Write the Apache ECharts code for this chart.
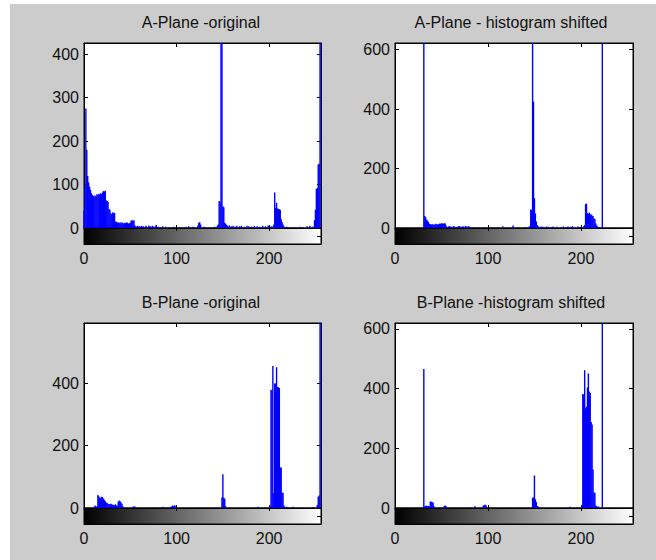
<!DOCTYPE html>
<html><head><meta charset="utf-8">
<script src="https://cdn.jsdelivr.net/npm/echarts@6/dist/echarts.min.js"></script>
<style>html,body{margin:0;padding:0;background:#fff;}#c{position:absolute;left:10px;top:4px;width:646px;height:556px;}</style>
</head><body><div id="c"></div><script>
const titles = ['A-Plane -original', 'A-Plane - histogram shifted', 'B-Plane -original', 'B-Plane -histogram shifted'];
const xTickLabels = [0, 100, 200];
const xMax = 256;
const yMax = [426, 622, 594, 620];
const yInterval = [100, 200, 200, 200];

// [intensity bin, pixel count]
const aPlaneOriginal = [[0,40],[1,95],[2,275],[3,180],[4,120],[5,105],[6,95],[7,88],[8,80],[9,76],[10,74],[11,72],[12,75],[13,73],[14,78],[15,76],[16,79],[17,77],[18,80],[19,78],[20,82],[21,85],[22,84],[23,86],[24,64],[25,62],[26,60],[27,44],[28,42],[29,34],[30,32],[31,36],[32,34],[33,35],[34,15],[35,14],[36,12],[37,13],[38,12],[39,11],[40,13],[41,12],[42,12],[43,10],[44,12],[45,11],[46,13],[47,12],[48,10],[49,11],[50,12],[51,17],[52,18],[53,16],[54,18],[55,6],[56,4],[57,3],[58,5],[59,3],[60,4],[61,2],[62,5],[63,3],[64,4],[66,3],[67,5],[68,2],[70,6],[71,3],[72,4],[74,5],[75,3],[77,4],[78,7],[80,3],[82,2],[85,4],[88,3],[92,2],[97,3],[103,2],[110,3],[113,4],[118,3],[123,6],[124,12],[125,13],[126,8],[130,3],[136,2],[141,3],[144,5],[145,8],[146,62],[147,60],[148,1300],[149,1200],[150,50],[151,48],[152,12],[153,10],[154,7],[155,5],[157,6],[159,4],[161,5],[163,3],[165,5],[168,4],[170,5],[173,3],[176,5],[178,4],[181,3],[184,5],[187,4],[190,3],[193,5],[196,4],[199,6],[201,3],[203,4],[205,8],[206,82],[207,46],[208,58],[209,45],[210,44],[211,43],[212,42],[213,20],[214,14],[215,8],[216,4],[219,3],[223,2],[228,2],[233,3],[237,2],[241,4],[244,5],[247,3],[249,18],[250,42],[251,90],[252,92],[253,146],[254,148],[255,1000]];
const aPlaneShifted = [[31,1500],[32,40],[33,36],[34,28],[35,25],[36,20],[37,14],[38,13],[39,12],[40,13],[41,12],[42,11],[43,13],[44,14],[45,12],[46,13],[47,12],[48,15],[49,14],[50,16],[51,15],[52,14],[53,16],[54,15],[55,8],[56,3],[58,6],[59,7],[61,4],[63,6],[64,5],[66,3],[68,6],[69,7],[71,5],[73,6],[74,4],[76,7],[77,5],[79,6],[80,4],[84,2],[90,3],[96,2],[104,3],[110,2],[116,6],[121,2],[127,8],[133,2],[140,3],[144,4],[145,6],[146,62],[147,60],[148,1400],[149,425],[150,100],[151,49],[152,22],[153,10],[154,6],[156,4],[158,5],[160,3],[163,5],[165,4],[168,3],[170,5],[174,4],[178,2],[181,5],[184,3],[186,5],[189,4],[191,6],[194,3],[197,5],[200,4],[203,6],[204,10],[205,80],[206,82],[207,50],[208,48],[209,52],[210,46],[211,45],[212,42],[213,40],[214,32],[215,30],[216,15],[217,8],[218,5],[220,3],[223,1500]];
const bPlaneOriginal = [[11,4],[12,8],[13,6],[14,5],[15,42],[16,38],[17,34],[18,32],[19,36],[20,35],[21,30],[22,26],[23,22],[24,18],[25,16],[26,14],[27,12],[28,13],[29,14],[30,12],[31,10],[32,10],[33,9],[34,12],[35,8],[36,7],[37,20],[38,24],[39,22],[40,18],[41,14],[42,6],[53,5],[54,4],[55,5],[85,4],[94,4],[95,6],[96,8],[97,6],[98,9],[99,5],[149,34],[150,108],[151,34],[152,30],[153,6],[188,4],[201,6],[202,380],[203,378],[204,456],[205,48],[206,400],[207,400],[208,452],[209,388],[210,388],[211,385],[212,130],[213,130],[214,50],[215,48],[216,8],[219,4],[226,4],[247,3],[252,10],[253,36],[254,40],[255,1000]];
const bPlaneShifted = [[31,466],[32,6],[33,7],[34,8],[35,6],[36,7],[37,5],[38,22],[39,21],[40,20],[41,18],[42,6],[53,7],[54,8],[55,6],[86,6],[95,8],[96,10],[97,11],[98,8],[148,34],[149,36],[150,109],[151,29],[152,20],[153,7],[154,5],[188,4],[201,8],[202,382],[203,380],[204,462],[205,334],[206,340],[207,404],[208,451],[209,390],[210,385],[211,288],[212,280],[213,129],[214,53],[215,50],[216,8],[217,6],[219,5],[223,1500]];

const histograms = [aPlaneOriginal, aPlaneShifted, bPlaneOriginal, bPlaneShifted];

const FONT = '"Liberation Sans", Arial, Helvetica, sans-serif';
const panels = [
  {left: 74, top: 39, width: 237, height: 185, tx: 191, ty: 18},
  {left: 385, top: 39, width: 238, height: 185, tx: 501, ty: 18},
  {left: 74, top: 319, width: 237, height: 185, tx: 191, ty: 298},
  {left: 385, top: 319, width: 238, height: 185, tx: 501, ty: 298}
];
const cbH = 16;

const grid = [], xAxis = [], yAxis = [], series = [], graphic = [];
const black = {color: '#000', width: 1};

function mkX(gi, pos, showLabel, tickLen) {
  return {
    gridIndex: gi, type: 'value', position: pos, min: 0, max: xMax, interval: 100,
    axisLine: {show: true, onZero: false, lineStyle: black},
    axisTick: {show: tickLen > 0, inside: true, length: tickLen, lineStyle: black},
    axisLabel: {show: showLabel, margin: 6, color: '#111', fontSize: 16, fontFamily: FONT,
      formatter: v => xTickLabels.includes(v) ? String(v) : ''},
    splitLine: {show: false}
  };
}
function mkY(gi, pos, showLabel, i) {
  return {
    gridIndex: gi, type: 'value', position: pos, min: 0, max: yMax[i], interval: yInterval[i],
    axisLine: {show: true, onZero: false, lineStyle: black},
    axisTick: {show: true, inside: true, length: 4, lineStyle: black},
    axisLabel: {show: showLabel, margin: 5, color: '#111', fontSize: 16, fontFamily: FONT,
      formatter: v => (v % yInterval[i] === 0) ? String(v) : ''},
    splitLine: {show: false}
  };
}

panels.forEach((p, i) => {
  const gh = grid.length;
  grid.push({left: p.left, top: p.top, width: p.width, height: p.height, show: true,
    backgroundColor: '#ffffff', borderColor: '#000', borderWidth: 1, outerBoundsMode: 'none', containLabel: false});
  grid.push({left: p.left, top: p.top + p.height, width: p.width, height: cbH, show: true,
    backgroundColor: {type: 'linear', x: 0, y: 0, x2: 1, y2: 0,
      colorStops: [{offset: 0, color: '#000000'}, {offset: 1, color: '#ffffff'}]},
    borderColor: '#000', borderWidth: 1, outerBoundsMode: 'none', containLabel: false});
  const xb = xAxis.length;
  xAxis.push(mkX(gh, 'bottom', false, 3));
  xAxis.push(mkX(gh, 'top', false, 4));
  xAxis.push(mkX(gh + 1, 'bottom', true, 0));
  xAxis.push(mkX(gh + 1, 'top', false, 3));
  const yb = yAxis.length;
  yAxis.push(mkY(gh, 'left', true, i));
  yAxis.push(mkY(gh, 'right', false, i));
  yAxis.push({gridIndex: gh + 1, type: 'value', position: 'right', min: 0, max: 2, interval: 1,
    axisLine: {show: true, onZero: false, lineStyle: black},
    axisTick: {show: true, inside: true, length: 4, lineStyle: black},
    axisLabel: {show: false}, splitLine: {show: false}});
  series.push({type: 'bar', xAxisIndex: xb, yAxisIndex: yb, data: histograms[i],
    barWidth: 1.4, itemStyle: {color: '#0000ff'}, clip: true, silent: true});
  graphic.push({type: 'text', x: p.tx, y: p.ty, silent: true,
    style: {text: titles[i], fill: '#111', font: '16px ' + FONT, textAlign: 'center', textVerticalAlign: 'middle'}});
});

const chart = echarts.init(document.getElementById('c'), null, {renderer: 'svg'});
chart.setOption({
  backgroundColor: '#cccccc',
  animation: false,
  grid, xAxis, yAxis, series, graphic
});
</script></body></html>
